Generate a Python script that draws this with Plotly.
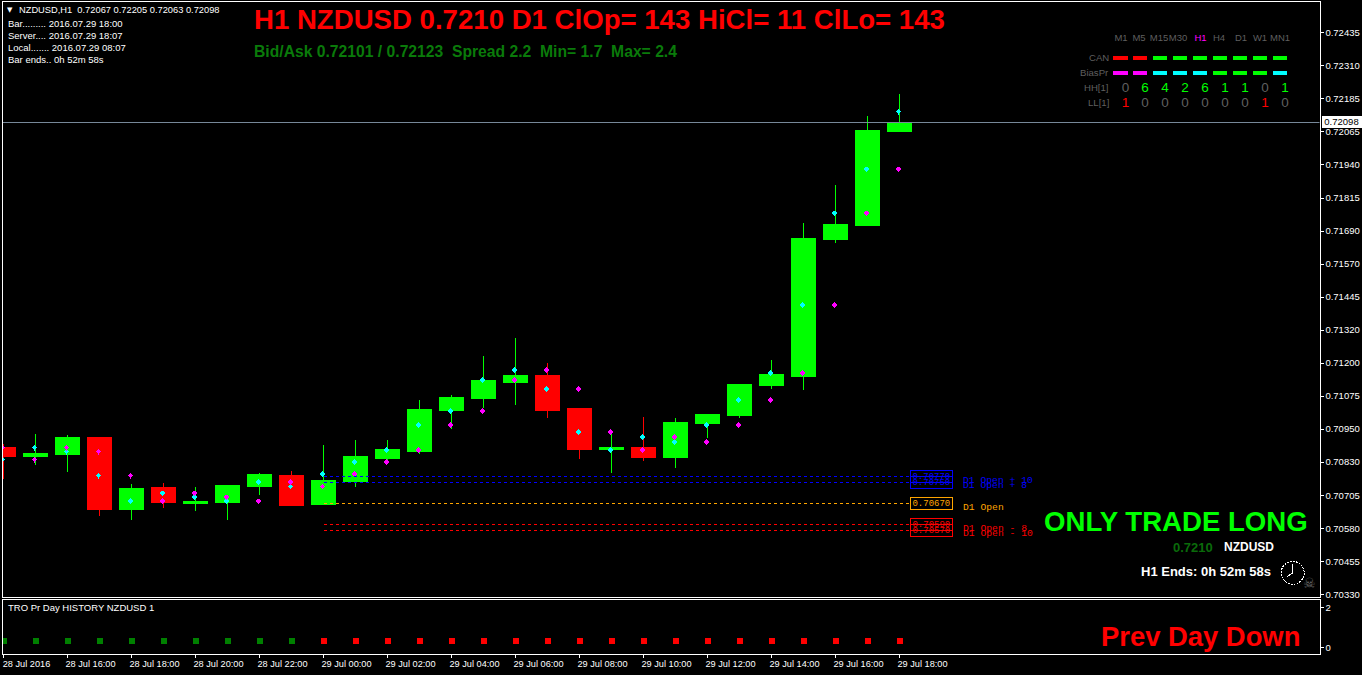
import plotly.graph_objects as go

W, H = 1362, 675

# ---------- data ----------
hours = list(range(29))
opens = [.70880,.70846,.70853,.70917,.70648,.70730,.70670,.70674,.70734,.70775,.70667,.70752,.70838,.70865,.71018,.71063,.71123,.71149,.71025,.70872,.70880,.70842,.70969,.70999,.71111,.71145,.71661,.71713,.72067]
highs = [.70894,.70932,.70928,.70921,.70745,.70749,.70734,.70741,.70786,.70794,.70891,.70910,.70910,.71059,.71078,.71224,.71291,.71197,.71025,.70939,.70995,.70992,.71007,.71115,.71209,.71721,.71863,.72125,.72205]
lows  = [.70764,.70816,.70790,.70622,.70610,.70655,.70644,.70607,.70704,.70663,.70667,.70734,.70827,.70857,.70951,.71029,.71040,.70992,.70838,.70786,.70831,.70805,.70917,.70992,.71100,.71096,.71646,.71710,.72063]
closes= [.70846,.70857,.70917,.70648,.70726,.70674,.70678,.70738,.70779,.70663,.70756,.70846,.70872,.71022,.71067,.71130,.71149,.71018,.70872,.70880,.70842,.70973,.71003,.71115,.71153,.71665,.71717,.72068,.72098]
cyan_vals = [.70835,.70880,.70865,.70775,.70681,.70708,.70693,.70678,.70752,.70734,.70782,.70827,.70872,.70966,.71018,.71134,.71171,.71100,.70939,.70872,.70921,.70902,.70966,.71059,.71160,.71414,.71758,.71923,.72140]
magenta_vals = [.70880,.70835,.70880,.70865,.70775,.70681,.70708,.70693,.70678,.70752,.70734,.70782,.70827,.70872,.70966,.71018,.71134,.71171,.71100,.70939,.70872,.70921,.70902,.70966,.71059,.71160,.71414,.71758,.71923]
current_price = 0.72098

level_vals = [0.70770, 0.70750, 0.70670, 0.70590, 0.70570]
level_text = ["0.70770", "0.70750", "0.70670", "0.70590", "0.70570"]
level_names = ["D1 Open + 10", "D1 Open + 8", "D1 Open", "D1 Open - 8", "D1 Open - 10"]
level_colors = ["#0000ff", "#0000ff", "#ffa500", "#ff0000", "#ff0000"]

pane_vals = [0.35] * 29
pane_colors = ["#008000"] * 10 + ["#ff0000"] * 19

time_labels = ["28 Jul 2016","28 Jul 16:00","28 Jul 18:00","28 Jul 20:00","28 Jul 22:00","29 Jul 00:00","29 Jul 02:00","29 Jul 04:00","29 Jul 06:00","29 Jul 08:00","29 Jul 10:00","29 Jul 12:00","29 Jul 14:00","29 Jul 16:00","29 Jul 18:00"]
price_labels = ["0.72435","0.72310","0.72185","0.72065","0.71940","0.71815","0.71690","0.71570","0.71445","0.71320","0.71200","0.71075","0.70950","0.70830","0.70705","0.70580","0.70455","0.70330"]

tf_names = ["M1","M5","M15","M30","H1","H4","D1","W1","MN1"]
can_colors = ["#ff0000"]*2 + ["#00ff00"]*7
bias_colors = ["#ff00ff","#ff00ff","#00ffff","#00ffff","#00ffff","#00ff00","#00ff00","#00ff00","#00ffff"]
hh_vals = [0,6,4,2,6,1,1,0,1]
ll_vals = [1,0,0,0,0,0,0,1,0]

# ---------- layout constants ----------
SANS = "Liberation Sans"
MONO = "Liberation Mono"
GRAY = "#5f5f5f"
plot_l, plot_r = 2.5, 1319.5
main_t, main_b = 2.5, 599
pane_t, pane_b = 601.5, 655.5
pane_zero_px, pane_unit_px = 649.5, 20
bar0_px, bar_px = 3.5, 32
price_top_px, price_bot_px = 33, 596
label_top_px, label_bot_px = 33, 596


def px_x(p):
    return p / W


def px_y(p):
    return 1 - p / H


notes = []


def note(text, x, y, size, color, family=SANS, anchor="left", bold=False, **kw):
    notes.append(dict(text=f"<b>{text}</b>" if bold else text, x=px_x(x), y=px_y(y),
                      xref="paper", yref="paper", xanchor=anchor, yanchor="middle",
                      showarrow=False, borderpad=0,
                      font=dict(family=family, size=size, color=color), **kw))


fig = go.Figure()

fig.add_trace(go.Candlestick(
    x=hours, open=opens, high=highs, low=lows, close=closes, xaxis="x2", yaxis="y",
    increasing=dict(line=dict(color="#00ff00", width=1), fillcolor="#00ff00"),
    decreasing=dict(line=dict(color="#ff0000", width=1), fillcolor="#ff0000"),
    whiskerwidth=0, showlegend=False))

offset = 1 / bar_px
fig.add_trace(go.Scatter(x=[h - offset for h in hours], y=cyan_vals, mode="markers", xaxis="x2", yaxis="y",
                         marker=dict(symbol="diamond", size=4.5, color="#00ffff"), showlegend=False))
fig.add_trace(go.Scatter(x=[h - offset for h in hours], y=magenta_vals, mode="markers", xaxis="x2", yaxis="y",
                         marker=dict(symbol="diamond", size=4.5, color="#ff00ff"), showlegend=False))

box_left_px = 910
level_x1 = (box_left_px - bar0_px) / bar_px
for v, txt, name, col in zip(level_vals, level_text, level_names, level_colors):
    fig.add_trace(go.Scatter(x=[10, level_x1], y=[v, v], mode="lines", xaxis="x2", yaxis="y",
                             line=dict(color=col, width=1, dash="3px,3px"), showlegend=False))
    ypx = label_top_px + (0.72435 - v) / (0.72435 - 0.70330) * (label_bot_px - label_top_px)
    notes.append(dict(text=txt, x=px_x(box_left_px), y=px_y(ypx), xref="paper", yref="paper",
                      xanchor="left", yanchor="middle", showarrow=False, width=40.7, height=11,
                      bordercolor=col, borderwidth=1, borderpad=0, align="center",
                      font=dict(family=MONO, size=9, color=col)))
    note(name, 962, ypx + 3.7, 9.7, col, family=MONO)

# current price line
fig.add_trace(go.Scatter(x=[(plot_l - bar0_px) / bar_px, (plot_r - bar0_px) / bar_px],
                         y=[current_price, current_price], mode="lines", xaxis="x2", yaxis="y",
                         line=dict(color="#778899", width=1), showlegend=False))

# lower pane
fig.add_trace(go.Scatter(x=hours, y=pane_vals, mode="markers", xaxis="x", yaxis="y2",
                         marker=dict(symbol="square", size=6, color=pane_colors), showlegend=False))

# timeframe matrix drawn on an overlay axis in pixel-like units
rows = dict(head=38.5, can=58, bias=73, hh=89, ll=104)
slot_x = [1120.5, 1140, 1160, 1180, 1200, 1220, 1240, 1260, 1280]
head_x = [1121, 1139, 1159, 1178, 1200.5, 1219, 1241, 1260, 1280]
fig.add_trace(go.Scatter(x=slot_x, y=[rows["can"]] * 9, mode="markers", xaxis="x3", yaxis="y3",
                         marker=dict(symbol="line-ew", size=10.7, line=dict(width=4, color=can_colors)), showlegend=False))
fig.add_trace(go.Scatter(x=slot_x, y=[rows["bias"]] * 9, mode="markers", xaxis="x3", yaxis="y3",
                         marker=dict(symbol="line-ew", size=10.7, line=dict(width=4, color=bias_colors)), showlegend=False))
fig.add_trace(go.Scatter(x=head_x, y=[rows["head"]] * 9, mode="text", text=tf_names, xaxis="x3", yaxis="y3",
                         textfont=dict(family=SANS, size=9.5, color=[GRAY]*4 + ["#ff00ff"] + [GRAY]*4), showlegend=False))
digit_x = [x + 5 for x in slot_x]
fig.add_trace(go.Scatter(x=digit_x, y=[rows["hh"]] * 9, mode="text", text=[str(v) for v in hh_vals], xaxis="x3", yaxis="y3",
                         textfont=dict(family=SANS, size=13.5, color=["#00ff00" if v else GRAY for v in hh_vals]), showlegend=False))
fig.add_trace(go.Scatter(x=digit_x, y=[rows["ll"]] * 9, mode="text", text=[str(v) for v in ll_vals], xaxis="x3", yaxis="y3",
                         textfont=dict(family=SANS, size=13.5, color=["#ff0000" if v else GRAY for v in ll_vals]), showlegend=False))
for label, y_pos in zip(["CAN", "BiasPr", "HH[1]", "LL[1]"], [58, 73, 88, 103]):
    note(label, 1109.5, y_pos, 9.6, GRAY, anchor="right")

# text blocks
note("H1 NZDUSD 0.7210 D1 ClOp= 143 HiCl= 11 ClLo= 143", 253, 20, 27.6, "#ff0000", bold=True)
note("Bid/Ask 0.72101 / 0.72123\u00a0\u00a0Spread 2.2\u00a0\u00a0Min= 1.7\u00a0\u00a0Max= 2.4", 253, 52, 15.7, "#0a7a0a", bold=True)
note("\u25bc", 6, 10, 7, "#ffffff", family="DejaVu Sans")
note("NZDUSD,H1\u00a0\u00a00.72067 0.72205 0.72063 0.72098", 18, 10.5, 9.3, "#ffffff")
note("Bar......... 2016.07.29 18:00", 7, 23.5, 9.5, "#ffffff")
note("Server.... 2016.07.29 18:07", 7, 35.5, 9.5, "#ffffff")
note("Local....... 2016.07.29 08:07", 7, 47.5, 9.5, "#ffffff")
note("Bar ends.. 0h 52m 58s", 7, 59.5, 9.5, "#ffffff")
note("ONLY TRADE LONG", 1043, 523, 27.6, "#00ff00", bold=True)
note("0.7210", 1172, 549, 13, "#0a6a0a", bold=True)
note("NZDUSD", 1223, 549, 12, "#ffffff", bold=True)
note("H1 Ends: 0h 52m 58s", 1140, 573, 13, "#ffffff", bold=True)
note("\u2620", 1302, 585, 14, "#6a6a6a", family="DejaVu Sans")
note("TRO Pr Day HISTORY NZDUSD 1", 7, 609.5, 9.5, "#ffffff")
note("Prev Day Down", 1100, 638, 27.4, "#ff0000", bold=True)

# current price tag
notes.append(dict(text="0.72098", x=px_x(1321), y=px_y(122), xref="paper", yref="paper", xanchor="left", yanchor="middle",
                  showarrow=False, bgcolor="#ffffff", width=39, height=11, borderpad=0, align="center",
                  font=dict(family=SANS, size=9.5, color="#000000")))

# clock icon
cx, cy, r = 1292.7, 574.5, 11.5
shapes = [
    dict(type="circle", xref="paper", yref="paper", x0=px_x(cx - r), x1=px_x(cx + r), y0=px_y(cy + r), y1=px_y(cy - r),
         line=dict(color="#ffffff", width=1, dash="2px,1px"), fillcolor="#000000"),
    dict(type="line", xref="paper", yref="paper", x0=px_x(cx), x1=px_x(cx), y0=px_y(cy), y1=px_y(cy - 9),
         line=dict(color="#ffffff", width=1)),
    dict(type="line", xref="paper", yref="paper", x0=px_x(cx), x1=px_x(cx - 6), y0=px_y(cy), y1=px_y(cy + 4),
         line=dict(color="#ffffff", width=1)),
]

tick_step = (0.72435 - 0.70330) / 17
price_ticks = [0.72435 - k * tick_step for k in range(18)]
per_px = (0.72435 - 0.70330) / (price_bot_px - price_top_px)
y_top = 0.72435 + (price_top_px - main_t) * per_px
y_bot = 0.70330 - (main_b - price_bot_px) * per_px
x_range = [(plot_l - bar0_px) / bar_px, (plot_r - bar0_px) / bar_px]
pane_range = [-(pane_b - pane_zero_px) / pane_unit_px, (pane_zero_px - pane_t) / pane_unit_px]

frame = dict(showline=True, linecolor="#ffffff", linewidth=1, mirror=True, showgrid=False, zeroline=False)
tickf = dict(family=SANS, size=9.5, color="#ffffff")

fig.update_layout(
    width=W, height=H, margin=dict(l=0, r=0, t=0, b=0),
    paper_bgcolor="#000000", plot_bgcolor="#000000", showlegend=False,
    boxgap=0.22, boxgroupgap=0, boxmode="overlay", annotations=notes, shapes=shapes,
    xaxis=dict(frame, domain=[px_x(plot_l), px_x(plot_r)], range=x_range, anchor="y2",
               tickmode="array", tickvals=hours[::2], ticktext=time_labels, ticks="outside",
               ticklen=3, tickcolor="#ffffff", tickfont=dict(family=SANS, size=9.2, color="#ffffff"),
               tickangle=0, ticklabelshift=23, ticklabelstandoff=-2),
    xaxis2=dict(frame, domain=[px_x(plot_l), px_x(plot_r)], range=x_range, anchor="y",
                showticklabels=False, ticks="", rangeslider=dict(visible=False)),
    yaxis=dict(frame, domain=[px_y(main_b), px_y(main_t)], range=[y_bot, y_top], anchor="x2", side="right",
               tickmode="array", tickvals=price_ticks, ticktext=price_labels, ticks="outside",
               ticklen=3, tickcolor="#ffffff", tickfont=tickf),
    yaxis2=dict(frame, domain=[px_y(pane_b), px_y(pane_t)], range=pane_range, anchor="x", side="right",
                tickmode="array", tickvals=[0, 2], ticktext=["0", "2"], ticks="outside",
                ticklen=3, tickcolor="#ffffff", tickfont=tickf),
    xaxis3=dict(domain=[px_x(1100), px_x(1300)], range=[1100, 1300], anchor="y3", visible=False),
    yaxis3=dict(domain=[px_y(115), px_y(25)], range=[115, 25], anchor="x3", visible=False),
)

fig.write_html("out.html", config=dict(displayModeBar=False),
               post_script="document.body.style.margin='0';document.body.style.overflow='hidden';document.body.style.background='#000';"
                           "document.querySelectorAll('.main-svg').forEach(function(s){s.style.shapeRendering='crispEdges';});")
